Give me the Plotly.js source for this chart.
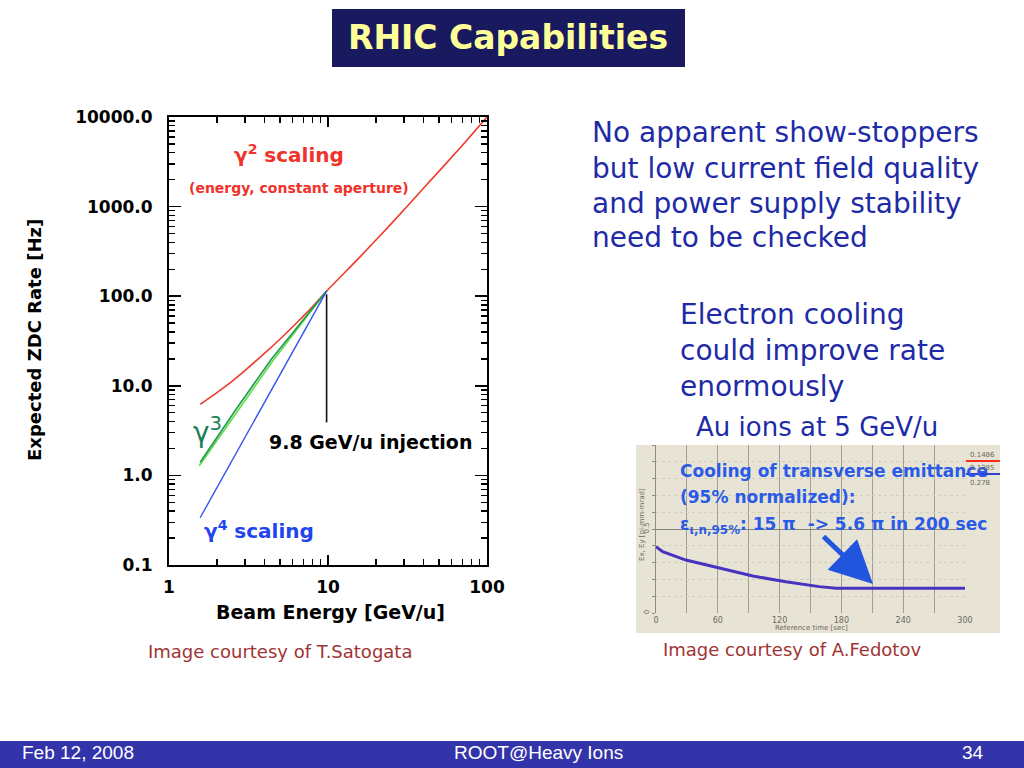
<!DOCTYPE html>
<html><head><meta charset="utf-8">
<script src="https://cdn.plot.ly/plotly-3.0.1.min.js"></script>
<style>html,body{margin:0;padding:0;background:#fff}#chart{width:1024px;height:768px}</style>
</head><body><div id="chart"></div>
<script>
// ---- main chart data (Beam energy [GeV/u] vs expected ZDC rate [Hz]) ----
const redEnergy = [1.57, 2.0, 2.5, 3.0, 4.0, 5.0, 6.0, 7.0, 8.0, 9.8, 15.9, 25.7, 41.7, 67.6, 100];
const redRate   = [6.2, 8.4, 11.3, 14.8, 23.1, 33.3, 45.6, 60, 76.6, 114, 275, 680, 1750, 4500, 10000];
const greenDarkEnergy  = [1.57, 2.65, 4.4, 9.8];
const greenDarkRate    = [1.40, 5.5, 19.8, 114];
const greenLightEnergy = [1.55, 2.7, 4.5, 9.8];
const greenLightRate   = [1.28, 5.2, 19.0, 114];
const blueEnergy = [1.57, 2.5, 4.0, 6.3, 9.8];
const blueRate   = [0.337, 1.48, 6.6, 28, 114];
const injectionEnergy = [9.8, 9.8];
const injectionRate   = [3.9, 105];
const yTickVals = [0.1, 1, 10, 100, 1000, 10000];
const yTickText = ['0.1', '1.0', '10.0', '100.0', '1000.0', '10000.0'];
const xTickVals = [1, 10, 100];
const xTickText = ['1', '10', '100'];

// ---- inset data (cooling of transverse emittance) ----
const coolTime = [0, 6.5, 29, 61.5, 94, 126, 158.5, 175, 200, 240, 300];
const coolEmit = [0.395, 0.365, 0.315, 0.266, 0.22, 0.186, 0.157, 0.147, 0.147, 0.147, 0.147];
const insetXTicks = [0, 60, 120, 180, 240, 300];
const insetXMinor = [30, 90, 150, 210, 270];
const insetYTicks = [0, 0.5];
const insetYTickText = ['0', '0.5'];
const insetYMinor = [0.1, 0.2, 0.3, 0.4, 0.6, 0.7, 0.8, 0.9, 1.0];

// minor tick positions for log axes
const xMinor = [];
[1, 10].forEach(d => { for (let k = 2; k <= 9; k++) xMinor.push(k * d); });
const yMinor = [];
[0.1, 1, 10, 100, 1000].forEach(d => { for (let k = 2; k <= 9; k++) yMinor.push(k * d); });

const W = 1024, H = 768;
const PX = px => px / W, PY = py => 1 - py / H;
const FB = 'DejaVu Sans';

function ann(text, px, py, size, color, opts) {
  opts = opts || {};
  return Object.assign({
    text: text, x: PX(px), y: PY(py), xref: 'paper', yref: 'paper',
    showarrow: false, xanchor: opts.xa || 'left', yanchor: 'middle',
    font: {family: opts.family || FB, size: size, color: color, weight: opts.bold ? 'bold' : 'normal'}
  }, opts.extra || {});
}

const traces = [
  {x: redEnergy, y: redRate, mode: 'lines', line: {color: '#f03a2a', width: 1.6, shape: 'spline', smoothing: 0.6}, xaxis: 'x', yaxis: 'y'},
  {x: greenLightEnergy, y: greenLightRate, mode: 'lines', line: {color: '#5fdc4a', width: 1.6}, xaxis: 'x', yaxis: 'y'},
  {x: greenDarkEnergy, y: greenDarkRate, mode: 'lines', line: {color: '#1f9a4c', width: 1.6}, xaxis: 'x', yaxis: 'y'},
  {x: blueEnergy, y: blueRate, mode: 'lines', line: {color: '#3353ee', width: 1.4}, xaxis: 'x', yaxis: 'y'},
  {x: injectionEnergy, y: injectionRate, mode: 'lines', line: {color: '#111', width: 1.6}, xaxis: 'x', yaxis: 'y'},
  {x: coolTime, y: coolEmit, mode: 'lines', line: {color: '#4634c0', width: 3}, xaxis: 'x2', yaxis: 'y2'}
];

const annotations = [
  ann('RHIC Capabilities', 508, 37, 33, '#ffff99', {xa: 'center', bold: true}),
  // axis titles
  ann('Expected ZDC Rate [Hz]', 35, 340, 18, '#000', {xa: 'center', bold: true, extra: {textangle: -90}}),
  ann('Beam Energy [GeV/u]', 330, 612, 19, '#000', {xa: 'center', bold: true}),
  // in-plot labels
  ann('γ<sup>2</sup> scaling', 232, 154, 20, '#f0322a', {bold: true}),
  ann('(energy, constant aperture)', 187, 188, 14, '#f0322a', {bold: true}),
  ann('γ<sup>3</sup>', 191, 430, 28, '#1a8055'),
  ann('9.8 GeV/u injection', 267, 442, 19, '#000', {bold: true}),
  ann('γ<sup>4</sup> scaling', 202, 530, 20, '#2244ee', {bold: true}),
  // right text
  ann('No apparent show-stoppers', 590, 132, 28, '#1e2aa6'),
  ann('but low current field quality', 590, 168, 28, '#1e2aa6'),
  ann('and power supply stability', 590, 203, 28, '#1e2aa6'),
  ann('need to be checked', 590, 238, 28, '#1e2aa6'),
  ann('Electron cooling', 678, 314, 28, '#1e2aa6'),
  ann('could improve rate', 678, 350, 28, '#1e2aa6'),
  ann('enormously', 678, 386, 28, '#1e2aa6'),
  ann('Au ions at 5 GeV/u', 694, 427, 26, '#1e2aa6'),
  // captions
  ann('Image courtesy of T.Satogata', 146, 651, 18, '#a03434'),
  ann('Image courtesy of A.Fedotov', 661, 649, 18, '#a03434'),
  // inset texts
  ann('Cooling of transverse emittance', 678, 471, 17, '#2b5be6', {bold: true}),
  ann('(95% normalized):', 678, 497, 17, '#2b5be6', {bold: true}),
  ann('ε<sub>ι,n,95%</sub>: 15 π  -> 5.6 π in 200 sec', 678, 525, 17, '#2b5be6', {bold: true}),
  ann('Reference time [sec]', 811, 628, 7, '#6a675e', {xa: 'center'}),
  ann('Ex, Ey [pi-mm-mrad]', 642, 525, 7, '#6a675e', {xa: 'center', extra: {textangle: -90}}),
  ann('0.1486', 968, 455, 7, '#6a675e'),
  ann('0.1385', 968, 468, 7, '#6a675e'),
  ann('0.278', 968, 483, 7, '#6a675e'),
  // arrow
  {x: PX(873), y: PY(584), xref: 'paper', yref: 'paper', text: '', showarrow: true,
   ax: -51, ay: -49, arrowcolor: '#2255dd', arrowwidth: 5, arrowhead: 2, arrowsize: 1.7},
  // footer
  ann('Feb 12, 2008', 20, 752, 19, '#ffffff', {family: 'Liberation Sans'}),
  ann('ROOT@Heavy Ions', 538, 752, 19, '#ffffff', {xa: 'center', family: 'Liberation Sans'}),
  ann('34', 986, 752, 19, '#ffffff', {xa: 'right', family: 'Liberation Sans'})
];

const shapes = [
  {type: 'rect', xref: 'paper', yref: 'paper', x0: PX(332), x1: PX(685), y0: PY(9), y1: PY(67), fillcolor: '#191960', line: {width: 0}},
  {type: 'rect', xref: 'paper', yref: 'paper', x0: 0, x1: 1, y0: PY(741), y1: 0, fillcolor: '#3333aa', line: {width: 0}},
  {type: 'rect', xref: 'paper', yref: 'paper', x0: PX(636), x1: PX(1000), y0: PY(445), y1: PY(633), fillcolor: '#e8e4d5', line: {width: 0}, layer: 'below'},
  {type: 'line', xref: 'paper', yref: 'paper', x0: PX(966), x1: PX(1000), y0: PY(461), y1: PY(461), line: {color: '#ff2a1a', width: 2}},
  {type: 'line', xref: 'paper', yref: 'paper', x0: PX(966), x1: PX(1000), y0: PY(474), y1: PY(474), line: {color: '#3040d0', width: 2}}
];

const tickFont = {family: FB, size: 17, color: '#000', weight: 'bold'};

const layout = {
  width: W, height: H, margin: {l: 0, r: 0, t: 0, b: 0},
  paper_bgcolor: '#ffffff', plot_bgcolor: 'rgba(0,0,0,0)', showlegend: false,
  xaxis: {
    type: 'log', domain: [PX(169), PX(487)], range: [0, 2], anchor: 'y',
    showline: true, linecolor: '#000', linewidth: 2, mirror: 'allticks',
    ticks: 'inside', ticklen: 10, tickwidth: 1.6, tickcolor: '#000',
    tickmode: 'array', tickvals: xTickVals, ticktext: xTickText, tickfont: tickFont,
    ticklabelstandoff: 6, showgrid: false, zeroline: false,
    minor: {tickmode: 'array', tickvals: xMinor, ticks: 'inside', ticklen: 6, tickwidth: 1.4, tickcolor: '#000', showgrid: false}
  },
  yaxis: {
    type: 'log', domain: [PY(565), PY(117)], range: [-1, 4], anchor: 'x',
    showline: true, linecolor: '#000', linewidth: 2, mirror: 'allticks',
    ticks: 'inside', ticklen: 12, tickwidth: 1.6, tickcolor: '#000',
    tickmode: 'array', tickvals: yTickVals, ticktext: yTickText, tickfont: tickFont,
    ticklabelstandoff: 11, showgrid: false, zeroline: false,
    minor: {tickmode: 'array', tickvals: yMinor, ticks: 'inside', ticklen: 6, tickwidth: 1.4, tickcolor: '#000', showgrid: false}
  },
  xaxis2: {
    domain: [PX(656), PX(965)], range: [0, 300], anchor: 'y2',
    tickmode: 'array', tickvals: insetXTicks, ticks: '', showline: false, zeroline: false,
    showgrid: true, gridcolor: '#a29e92', gridwidth: 1,
    tickfont: {family: FB, size: 8, color: '#6a675e'}, ticklabelstandoff: 1,
    minor: {tickmode: 'array', tickvals: insetXMinor, showgrid: true, gridcolor: '#a29e92', ticks: ''}
  },
  yaxis2: {
    domain: [PY(613), PY(445)], range: [0, 1], anchor: 'x2',
    tickmode: 'array', tickvals: insetYTicks, ticktext: insetYTickText, tickangle: -90,
    tickfont: {family: FB, size: 7, color: '#6a675e'},
    showgrid: true, gridcolor: '#85827a', zeroline: false,
    showline: true, linecolor: '#8f8c81', ticks: 'outside', ticklen: 3, tickcolor: '#8f8c81',
    minor: {tickmode: 'array', tickvals: insetYMinor, ticks: 'outside', ticklen: 3, tickcolor: '#8f8c81',
            showgrid: true, gridcolor: '#d2cebf', griddash: 'dot'}
  },
  shapes: shapes,
  annotations: annotations
};

Plotly.newPlot('chart', traces, layout, {staticPlot: true, displayModeBar: false});
</script>
</body></html>
